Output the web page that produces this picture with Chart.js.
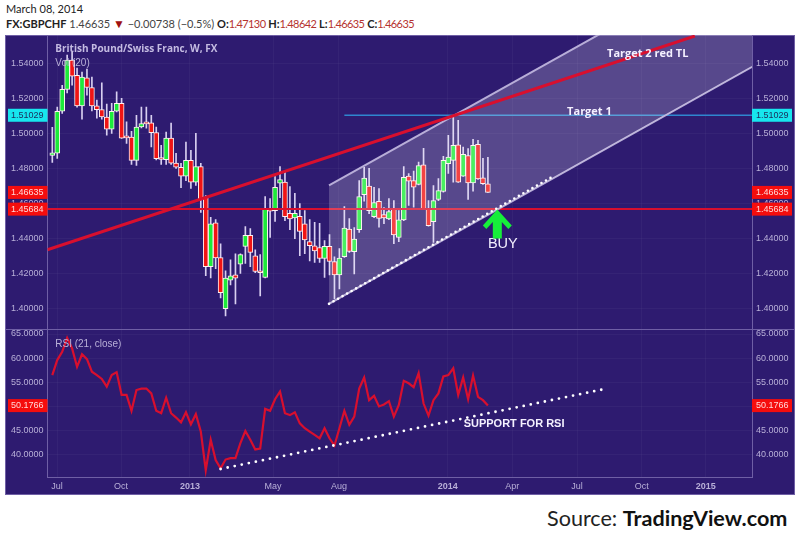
<!DOCTYPE html>
<html>
<head>
<meta charset="utf-8">
<script src="https://cdn.jsdelivr.net/npm/chart.js@4"></script>
<style>
  html, body { margin: 0; padding: 0; background: #fff; }
  #page { position: relative; width: 800px; height: 541px; overflow: hidden; font-family: Lato, sans-serif; color: #222; }
  #date { position: absolute; left: 6px; top: 1px; font-size: 11px; line-height: 16px; }
  #quote { position: absolute; left: 6px; top: 16px; font-size: 11px; line-height: 16px; white-space: nowrap; color: #444; }
  #quote b { color: #222; }
  #quote .red { color: #b5332e; letter-spacing: -0.6px; }
  #quote .arrow { color: #a01010; font-size: 12px; }
  #frame { position: absolute; left: 5px; top: 35px; width: 788px; height: 458px; background: #2e1b70; border: 1px solid #6f5fa5; }
  #split { position: absolute; left: 6px; top: 329px; width: 788px; height: 1px; background: #6f5fa5; }
  #top { position: absolute; left: 0; top: 35px; }
  #bottom { position: absolute; left: 0; top: 330px; }
  #source { position: absolute; left: 547px; top: 504px; font-size: 21.6px; line-height: 28px; white-space: nowrap; color: #222; }
  #source b { color: #111; }
</style>
</head>
<body>
<div id="page">
  <div id="date">March 08, 2014</div>
  <div id="quote"><b>FX:GBPCHF</b> 1.46635 <span class="arrow">▼</span> −0.00738 (−0.5%) <b>O:</b><span class="red">1.47130</span> <b>H:</b><span class="red">1.48642</span> <b>L:</b><span class="red">1.46635</span> <b>C:</b><span class="red">1.46635</span></div>
  <div id="frame"></div>
  <canvas id="top" width="800" height="295"></canvas>
  <div id="split"></div>
  <canvas id="bottom" width="800" height="164"></canvas>
  <div id="source">Source: <b>TradingView.com</b></div>
</div>
<script>
// weekly candles
const opens = [1.4874,1.4887,1.5126,1.5250,1.5417,1.5330,1.5156,1.5316,1.5261,1.5156,1.5135,1.5093,1.5023,1.5126,1.5171,1.4979,1.4979,1.4846,1.5036,1.5060,1.5060,1.5004,1.4857,1.4850,1.4973,1.4830,1.4807,1.4756,1.4846,1.4722,1.4811,1.4636,1.4240,1.4490,1.4293,1.4002,1.4164,1.4194,1.4255,1.4356,1.4419,1.4303,1.4213,1.4179,1.4563,1.4560,1.4716,1.4722,1.4545,1.4518,1.4527,1.4484,1.4383,1.4360,1.4350,1.4287,1.4356,1.4269,1.4193,1.4297,1.4455,1.4326,1.4451,1.4650,1.4699,1.4526,1.4613,1.4537,1.4513,1.4573,1.4407,1.4507,1.4756,1.4731,1.4709,1.4821,1.4570,1.4497,1.4623,1.4669,1.4827,1.4846,1.4935,1.4756,1.4874,1.4718,1.4937,1.4747,1.4713];
const highs = [1.5034,1.5149,1.5274,1.5446,1.5463,1.5371,1.5349,1.5366,1.5320,1.5189,1.5287,1.5166,1.5171,1.5236,1.5200,1.5065,1.5011,1.5103,1.5149,1.5149,1.5103,1.5036,1.4931,1.5007,1.5059,1.4886,1.4829,1.4950,1.4903,1.5000,1.4829,1.4646,1.4522,1.4509,1.4371,1.4217,1.4280,1.4314,1.4314,1.4469,1.4457,1.4337,1.4309,1.4640,1.4629,1.4754,1.4811,1.4779,1.4697,1.4659,1.4600,1.4560,1.4509,1.4493,1.4487,1.4389,1.4423,1.4297,1.4343,1.4583,1.4514,1.4463,1.4731,1.4807,1.4800,1.4693,1.4686,1.4577,1.4629,1.4617,1.4560,1.4811,1.4771,1.4785,1.4836,1.4914,1.4617,1.4703,1.4743,1.4869,1.4989,1.5091,1.5074,1.4922,1.4913,1.4966,1.4960,1.4857,1.4864];
const lows = [1.4834,1.4857,1.5114,1.5230,1.5274,1.5149,1.5080,1.5217,1.5127,1.5086,1.5080,1.4989,1.5000,1.5122,1.4971,1.4943,1.4823,1.4817,1.5031,1.5029,1.4922,1.4849,1.4823,1.4823,1.4823,1.4800,1.4690,1.4731,1.4686,1.4703,1.4550,1.4189,1.4177,1.4229,1.4063,1.3960,1.4137,1.4029,1.4202,1.4259,1.4240,1.4207,1.4074,1.4177,1.4407,1.4499,1.4634,1.4503,1.4451,1.4400,1.4303,1.4314,1.4274,1.4265,1.4265,1.4179,1.4194,1.4057,1.4114,1.4293,1.4322,1.4200,1.4436,1.4613,1.4543,1.4520,1.4465,1.4486,1.4509,1.4371,1.4383,1.4503,1.4589,1.4579,1.4706,1.4566,1.4471,1.4379,1.4617,1.4665,1.4771,1.4722,1.4720,1.4754,1.4623,1.4670,1.4737,1.4709,1.46635];
const closes = [1.4889,1.5126,1.5251,1.5417,1.5326,1.5156,1.5320,1.5261,1.5156,1.5135,1.5093,1.5023,1.5126,1.5171,1.4973,1.4974,1.4846,1.5036,1.5055,1.5054,1.5004,1.4855,1.4851,1.4973,1.4830,1.4807,1.4756,1.4846,1.4722,1.4811,1.4627,1.4240,1.4484,1.4290,1.4093,1.4175,1.4189,1.4175,1.4309,1.4419,1.4322,1.4213,1.4206,1.4570,1.4557,1.4693,1.4737,1.4526,1.4513,1.4545,1.4442,1.4393,1.4360,1.4331,1.4287,1.4356,1.4270,1.4194,1.4290,1.4461,1.4327,1.4398,1.4640,1.4745,1.4560,1.4606,1.4516,1.4518,1.4554,1.4421,1.4507,1.4750,1.4727,1.4693,1.4817,1.4570,1.4474,1.4617,1.4674,1.4846,1.4865,1.4931,1.4722,1.4880,1.4718,1.4931,1.4741,1.4713,1.46635];
const rsiValues = [56.5,59.6,61.3,64.2,62.0,58.2,60.8,59.8,57.2,56.5,55.7,54.1,56.5,57.1,52.4,52.4,49.1,53.4,53.7,53.7,52.7,49.1,48.6,51.8,48.6,47.7,46.7,48.8,46.3,48.4,44.8,36.8,43.1,38.9,37.2,39.0,39.3,39.3,42.4,44.9,43.1,41.1,41.3,49.5,49.1,51.5,53.1,48.6,48.2,48.8,46.5,45.5,44.8,44.1,43.4,45.5,43.4,41.9,45.5,49.1,46.2,47.9,53.7,56.0,51.3,52.2,50.0,50.4,51.1,47.9,50.3,55.3,54.8,54.0,56.9,50.6,48.1,51.3,52.7,56.2,56.5,57.9,52.4,56.0,51.5,56.4,52.0,51.3,50.1766];

const priceTicks = [1.40,1.42,1.44,1.46,1.48,1.50,1.52,1.54];
const rsiTicks = [40,45,50,55,60,65];
const timeTicks = [0.95,13.9,27.8,44.6,57.9,79.9,92.9,106,119.1,132];
const timeLabels = ['Jul','Oct','2013','May','Aug','2014','Apr','Jul','Oct','2015'];

// drawn lines, [week, value]
const channelTop = [[55.9,1.4703],[141.4,1.6051]];
const channelBottom = [[55.9,1.4029],[141.4,1.5379]];
const channelDots = [[55.9,1.4029],[101,1.4752]];
const redTrend = [[-1,1.4337],[129.8,1.5554]];
const supportLevel = [[-1,1.45684],[142,1.45684]];
const targetLevel = [[59,1.51029],[142,1.51029]];
const rsiSupport = [[34,37.05],[112.3,53.76]];

const weekMin = -0.97, weekMax = 141.35;
const axisColor = '#6f5fa5', labelColor = '#b9b0d8';
const gridColor = 'rgba(255,255,255,0.035)';

function toPoints(list) {
  return list.map(p => ({ x: p[0], y: p[1] }));
}

// the library adds half a label of padding to the chart area, the frame here has none
function noPadding(s) {
  s.paddingTop = 0;
  s.paddingBottom = 0;
  s.paddingLeft = 0;
  s.paddingRight = 0;
}

function xScale(height) {
  return {
    type: 'linear',
    offset: false,
    min: weekMin,
    max: weekMax,
    afterBuildTicks: s => { s.ticks = timeTicks.map(v => ({ value: v })); },
    afterFit: s => { s.height = height; noPadding(s); },
    grid: { color: gridColor, drawTicks: false, offset: false },
    border: { color: axisColor },
    ticks: {
      display: height > 0,
      color: labelColor,
      padding: 4,
      maxRotation: 0,
      autoSkip: false,
      font: c => ({ family: 'Liberation Sans', size: 9, weight: /^20/.test(timeLabels[c.index]) ? 'bold' : 'normal' }),
      callback: (v, i) => timeLabels[i]
    }
  };
}

function yScale(side, min, max, list, digits, width) {
  return {
    position: side,
    min: min,
    max: max,
    afterBuildTicks: s => { s.ticks = list.map(v => ({ value: v })); },
    afterFit: s => { s.width = width; noPadding(s); },
    grid: { color: gridColor, drawTicks: false, drawOnChartArea: side == 'left' },
    border: { color: axisColor },
    ticks: {
      color: labelColor,
      padding: 4,
      autoSkip: false,
      font: { family: 'Liberation Sans', size: 9 },
      callback: v => v.toFixed(digits)
    }
  };
}

// coloured price tags on both axes
function drawTag(chart, value, text, bg, fg) {
  const ctx = chart.ctx, a = chart.chartArea;
  const y = chart.scales.y.getPixelForValue(value);
  ctx.font = '9px "Liberation Sans"';
  ctx.textBaseline = 'middle';
  ctx.fillStyle = bg;
  ctx.fillRect(8, y - 6.5, a.left - 8, 13);
  ctx.fillRect(a.right, y - 6.5, 40, 13);
  ctx.fillStyle = fg;
  ctx.textAlign = 'right';
  ctx.fillText(text, a.left - 4, y);
  ctx.textAlign = 'left';
  ctx.fillText(text, a.right + 4, y);
}

function drawNote(chart, week, value, text, font, color) {
  const ctx = chart.ctx;
  ctx.font = font;
  ctx.fillStyle = color;
  ctx.textAlign = 'left';
  ctx.textBaseline = 'middle';
  ctx.fillText(text, chart.scales.x.getPixelForValue(week), chart.scales.y.getPixelForValue(value));
}

const priceNotes = {
  id: 'priceNotes',
  afterDraw(chart) {
    const ctx = chart.ctx;
    drawTag(chart, 1.51029, '1.51029', '#17e6ee', '#1c2a5a');
    drawTag(chart, 1.46635, '1.46635', '#f50d0d', '#ffd8d8');
    drawTag(chart, 1.45684, '1.45684', '#f50d0d', '#ffd8d8');
    drawNote(chart, 0.6, 1.5480, 'British Pound/Swiss Franc, W, FX', 'bold 10px "Open Sans"', '#c4bbe2');
    drawNote(chart, 0.6, 1.5400, 'Vol (20)', '10px "Liberation Sans"', '#b9b0d8');
    drawNote(chart, 112.06, 1.5451, 'Target 2 red TL', 'bold 11px "Open Sans"', '#f4f0ff');
    drawNote(chart, 104, 1.5120, 'Target 1', 'bold 11px "Open Sans"', '#f4f0ff');
    drawNote(chart, 88, 1.4371, 'BUY', '14.5px "Liberation Sans"', '#f4f0ff');
    // buy arrow, tip placed on the channel
    const tx = chart.scales.x.getPixelForValue(89.9);
    const ty = chart.scales.y.getPixelForValue(1.4566);
    ctx.fillStyle = '#16ee3a';
    ctx.beginPath();
    ctx.moveTo(tx, ty);
    ctx.lineTo(tx + 14.5, ty + 16);
    ctx.lineTo(tx + 11, ty + 19.5);
    ctx.lineTo(tx + 4.5, ty + 12.5);
    ctx.lineTo(tx + 4.5, ty + 29);
    ctx.lineTo(tx - 4.5, ty + 29);
    ctx.lineTo(tx - 4.5, ty + 12.5);
    ctx.lineTo(tx - 11, ty + 19.5);
    ctx.lineTo(tx - 14.5, ty + 16);
    ctx.closePath();
    ctx.fill();
  }
};

const rsiNotes = {
  id: 'rsiNotes',
  afterDraw(chart) {
    drawTag(chart, 50.1766, '50.1766', '#f50d0d', '#ffd8d8');
    drawNote(chart, 0.6, 62.9, 'RSI (21, close)', '10px "Liberation Sans"', '#b9b0d8');
    drawNote(chart, 83.1, 46.4, 'SUPPORT FOR RSI', 'bold 11px "Liberation Sans"', '#f4f0ff');
  }
};

function lineSet(points, color, width, order, extra) {
  return Object.assign({
    type: 'line',
    data: toPoints(points),
    borderColor: color,
    borderWidth: width,
    pointRadius: 0,
    fill: false,
    tension: 0,
    order: order
  }, extra || {});
}

new Chart(document.getElementById('top'), {
  data: {
    datasets: [
      lineSet(channelDots, '#ffffff', 2.6, 1, { borderDash: [0, 5.2], borderCapStyle: 'round' }),
      lineSet(redTrend, '#d80f2e', 3, 2),
      lineSet(channelTop, '#b8aed8', 2, 3, { fill: { target: '+1' }, backgroundColor: 'rgba(255,255,255,0.2)' }),
      lineSet(channelBottom, '#b8aed8', 2, 3),
      lineSet(targetLevel, '#2f86cf', 1.5, 4),
      lineSet(supportLevel, '#d80f2e', 2, 4),
      {
        type: 'bar',
        data: opens.map((o, i) => ({ x: i, y: [o, closes[i]] })),
        backgroundColor: c => closes[c.dataIndex] >= opens[c.dataIndex] ? '#1ceb3a' : '#f01414',
        borderColor: '#fff0f0',
        borderWidth: 1,
        borderSkipped: false,
        barThickness: 5,
        grouped: false,
        minBarLength: 2,
        order: 5
      },
      {
        type: 'bar',
        data: lows.map((l, i) => ({ x: i, y: [l, highs[i]] })),
        backgroundColor: '#d8cff0',
        barThickness: 1,
        grouped: false,
        order: 6
      }
    ]
  },
  options: {
    responsive: false,
    animation: false,
    layout: { padding: 0 },
    plugins: { legend: { display: false }, tooltip: { enabled: false } },
    scales: {
      x: xScale(0),
      y: yScale('left', 1.388, 1.556, priceTicks, 5, 47.5),
      yRight: yScale('right', 1.388, 1.556, priceTicks, 5, 48)
    }
  },
  plugins: [priceNotes]
});

new Chart(document.getElementById('bottom'), {
  data: {
    datasets: [
      lineSet(rsiSupport, '#ffffff', 2.8, 1, { borderDash: [0, 7.2], borderCapStyle: 'round' }),
      { type: 'line', data: rsiValues.map((v, i) => ({ x: i, y: v })), borderColor: '#d80f2e', borderWidth: 2.2, pointRadius: 0, tension: 0, fill: false, order: 2 }
    ]
  },
  options: {
    responsive: false,
    animation: false,
    layout: { padding: 0 },
    plugins: { legend: { display: false }, tooltip: { enabled: false } },
    scales: {
      x: xScale(17),
      y: yScale('left', 35.39, 65.83, rsiTicks, 4, 47.5),
      yRight: yScale('right', 35.39, 65.83, rsiTicks, 4, 48)
    }
  },
  plugins: [rsiNotes]
});
</script>
</body>
</html>
